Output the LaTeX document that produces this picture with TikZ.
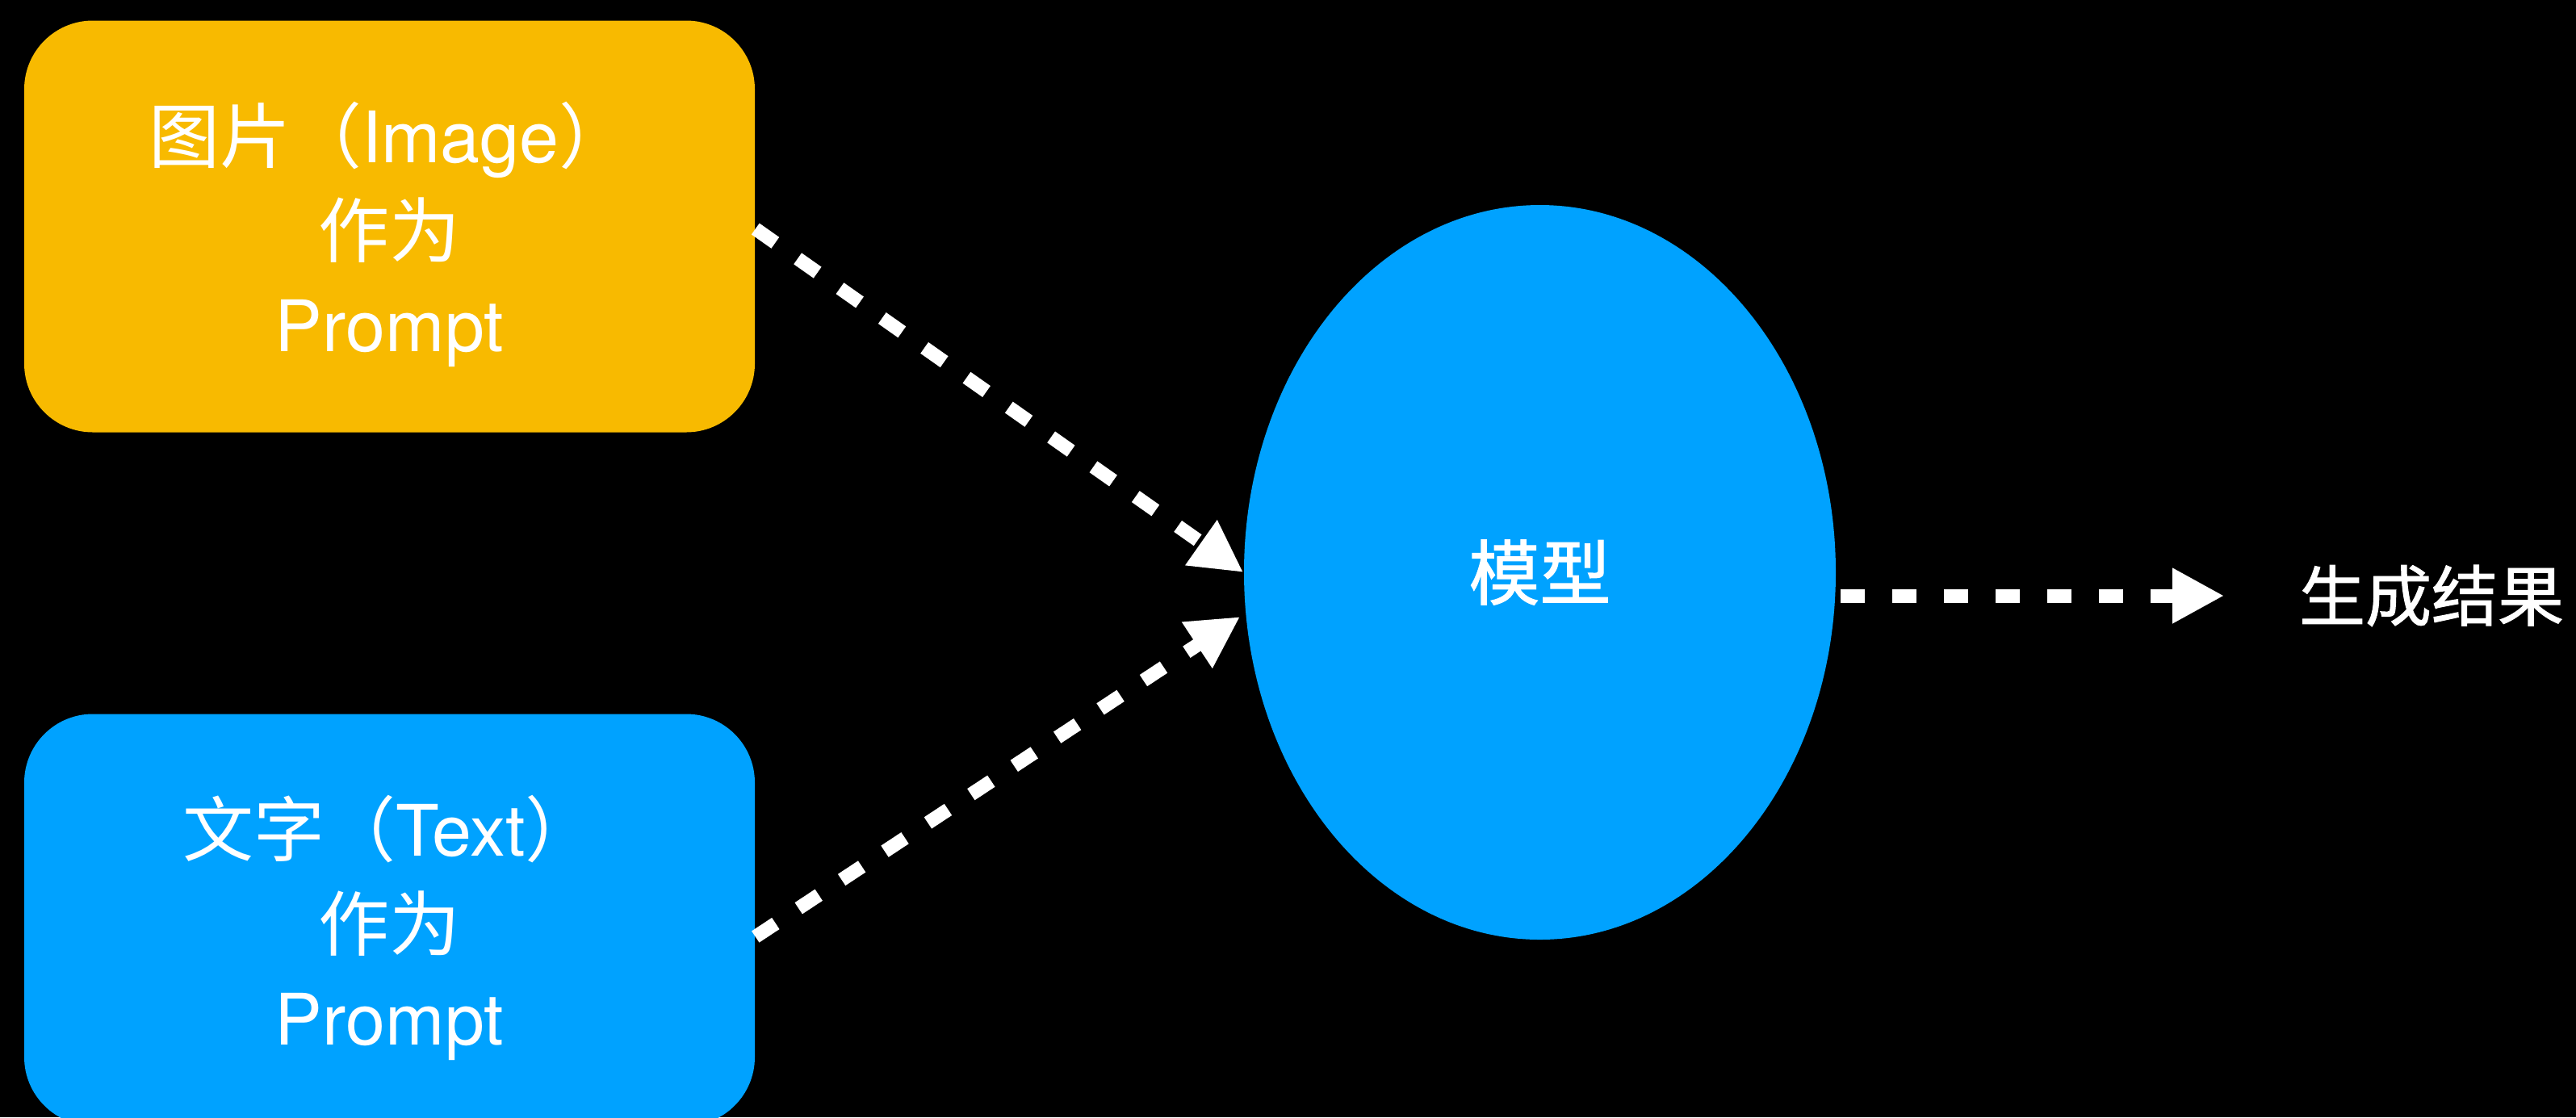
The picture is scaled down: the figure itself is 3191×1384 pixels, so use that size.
\documentclass[tikz,border=0pt]{standalone}
\usepackage{fontspec}
\setmainfont{TeX Gyre Heros}
\newfontfamily\cjk{Noto Sans CJK SC}
\newfontfamily\cjkheavy{Noto Sans CJK SC}[FakeBold=1.2]
\usetikzlibrary{arrows.meta,shapes.geometric,calc}
\definecolor{kyellow}{RGB}{248,186,0}
\definecolor{kblue}{RGB}{0,162,255}
\begin{document}
\begin{tikzpicture}[x=0.25pt,y=-0.25pt,
  promptbox/.style={rounded corners=21.25pt, minimum width=226.25pt, minimum height=127.5pt,
    inner sep=0pt},
  boxtext/.style={inner sep=0pt, align=center, text=white,
    font=\fontsize{22pt}{29.25pt}\selectfont},
  flow/.style={draw=white, line width=4.25pt, dash pattern=on 7.5pt off 8.5pt,
    -{Triangle[length=16pt,width=16pt]}},
  label/.style={text=white, inner sep=0pt}
]
\fill[black] (0,0) rectangle (3191,1384);
\useasboundingbox (0,0) rectangle (3191,1384);

\node[promptbox, fill=kyellow] (img) at (482.5,280.5) {};
\node[boxtext] (imgT) at ($(img.center)+(0,10)$)
  {{\cjk 图片（}Image{\cjk ）}\\{\cjk 作为}\\Prompt};
\node[promptbox, fill=kblue] (txt) at (482.5,1139.5) {};
\node[boxtext] (txtT) at ($(txt.center)+(0,10)$)
  {{\cjk 文字（}Text{\cjk ）}\\{\cjk 作为}\\Prompt};

\node[ellipse, fill=kblue, minimum width=183.25pt, minimum height=227.5pt, inner sep=0pt,
  text=white, font=\cjkheavy\fontsize{22pt}{26pt}\selectfont] (model) at (1907.5,709) {模型};

\node[label, font=\cjkheavy\fontsize{20.5pt}{24pt}\selectfont] (result) at (3012,738) {生成结果};

\coordinate (imgS) at ($(img.east)+(0,3)$);
\coordinate (txtS) at ($(txt.east)+(0,21)$);
\coordinate (lowTip) at ($(model.west)+(-4,55)$);
\coordinate (outS) at ($(model.east)+(5,29)$);

\draw[flow] (imgS) -- (model.west);
\draw[flow] (txtS) -- (lowTip);
\draw[flow, shorten >=23pt] (outS) -- (outS -| result.west);
\end{tikzpicture}
\end{document}
